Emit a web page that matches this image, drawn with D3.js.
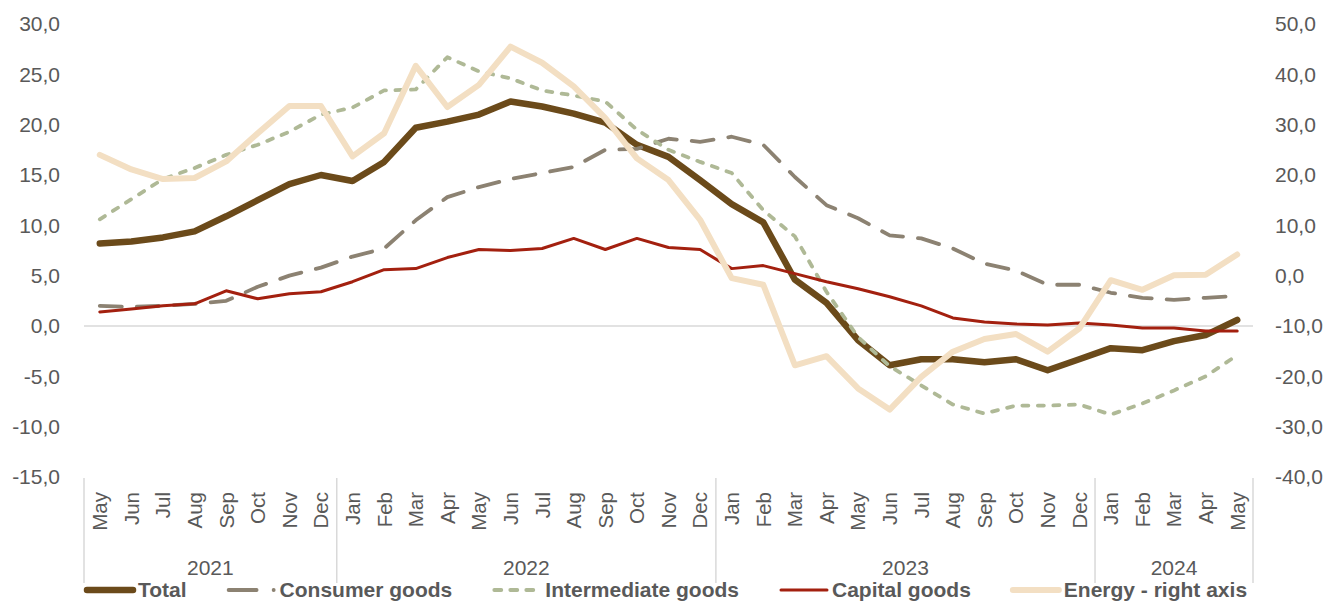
<!DOCTYPE html>
<html>
<head>
<meta charset="utf-8">
<script src="https://d3js.org/d3.v7.min.js"></script>
<style>
  body { margin: 0; background: #fff; }
  text { font-family: "Liberation Sans", Arial, sans-serif; fill: #595959; }
</style>
</head>
<body>
<svg id="chart" width="1341" height="603"></svg>
<script>
// categories
const months = ["May","Jun","Jul","Aug","Sep","Oct","Nov","Dec",
  "Jan","Feb","Mar","Apr","May","Jun","Jul","Aug","Sep","Oct","Nov","Dec",
  "Jan","Feb","Mar","Apr","May","Jun","Jul","Aug","Sep","Oct","Nov","Dec",
  "Jan","Feb","Mar","Apr","May"];
const years = ["2021", "2022", "2023", "2024"];
const yearSpans = [8, 12, 12, 5];

// series (left axis)
const total = [8.2, 8.4, 8.8, 9.4, 10.9, 12.5, 14.1, 15.0, 14.4, 16.3, 19.7, 20.3, 21.0, 22.3, 21.8, 21.1, 20.2, 18.0, 16.8, 14.5,
  12.1, 10.3, 4.6, 2.3, -1.4, -3.9, -3.3, -3.3, -3.6, -3.3, -4.4, -3.3, -2.2, -2.4, -1.5, -0.9, 0.6];
const consumer = [2.0, 1.9, 2.0, 2.2, 2.5, 3.9, 5.0, 5.8, 6.9, 7.7, 10.5, 12.8, 13.8, 14.6, 15.2, 15.8, 17.5, 17.6, 18.6, 18.3,
  18.8, 18.0, 14.8, 12.0, 10.7, 9.0, 8.7, 7.7, 6.2, 5.5, 4.1, 4.1, 3.3, 2.8, 2.6, 2.8, 3.0];
const intermediate = [10.6, 12.6, 14.6, 15.7, 17.0, 18.0, 19.3, 21.0, 21.7, 23.4, 23.5, 26.7, 25.3, 24.6, 23.4, 22.9, 22.3, 19.5, 17.5, 16.3,
  15.2, 11.5, 8.9, 3.4, -1.1, -4.0, -5.9, -7.8, -8.7, -7.9, -7.9, -7.8, -8.8, -7.7, -6.4, -5.0, -2.9];
const capital = [1.4, 1.7, 2.0, 2.2, 3.5, 2.7, 3.2, 3.4, 4.4, 5.6, 5.7, 6.8, 7.6, 7.5, 7.7, 8.7, 7.6, 8.7, 7.8, 7.6,
  5.7, 6.0, 5.2, 4.4, 3.7, 2.9, 2.0, 0.8, 0.4, 0.2, 0.1, 0.3, 0.1, -0.2, -0.2, -0.5, -0.5];
// series (right axis)
const energy = [24.0, 21.1, 19.2, 19.4, 22.7, 28.3, 33.7, 33.7, 23.7, 28.3, 41.7, 33.5, 37.9, 45.5, 42.3, 37.6, 31.3, 23.3, 19.0, 11.1,
  -0.5, -1.8, -17.8, -16.0, -22.4, -26.6, -20.1, -15.1, -12.6, -11.6, -15.1, -10.5, -0.9, -2.8, 0.1, 0.2, 4.2];

// tick labels
const leftTicks = [-15, -10, -5, 0, 5, 10, 15, 20, 25, 30];
const rightTicks = [-40, -30, -20, -10, 0, 10, 20, 30, 40, 50];

const series = [
  {name: "Total", values: total, axis: "left", color: "#6b4a1a", width: 6.5, dash: null},
  {name: "Consumer goods", values: consumer, axis: "left", color: "#8c8272", width: 3.8, dash: "22,15"},
  {name: "Intermediate goods", values: intermediate, axis: "left", color: "#afb996", width: 3.8, dash: "6,9.5"},
  {name: "Capital goods", values: capital, axis: "left", color: "#a3200f", width: 3, dash: null},
  {name: "Energy - right axis", values: energy, axis: "right", color: "#f3dfc3", width: 6, dash: null}
];

const PLOT_LEFT = 84, PLOT_RIGHT = 1253, PLOT_TOP = 24, PLOT_BOTTOM = 477;

const locale = d3.formatLocale({decimal: ",", thousands: ".", grouping: [3], currency: ["", ""], minus: "-"});
const fmt = locale.format(".1f");

const svg = d3.select("#chart");

const x = d3.scaleBand().domain(d3.range(months.length)).range([PLOT_LEFT, PLOT_RIGHT]).padding(0);
const cx = i => x(i) + x.bandwidth() / 2;
const yLeft = d3.scaleLinear().domain([-15, 30]).range([PLOT_BOTTOM, PLOT_TOP]);
const yRight = d3.scaleLinear().domain([-40, 50]).range([PLOT_BOTTOM, PLOT_TOP]);

// left axis
svg.append("g")
  .attr("transform", `translate(${PLOT_LEFT - 24},0)`)
  .call(d3.axisLeft(yLeft).tickValues(leftTicks).tickFormat(fmt).tickSize(0).tickPadding(0))
  .call(g => g.select(".domain").remove())
  .selectAll("text")
  .style("font-size", "21px")
  .style("font-family", "Liberation Sans, Arial, sans-serif")
  .attr("fill", "#595959");

// right axis
svg.append("g")
  .attr("transform", `translate(${PLOT_RIGHT + 22},0)`)
  .call(d3.axisRight(yRight).tickValues(rightTicks).tickFormat(fmt).tickSize(0).tickPadding(0))
  .call(g => g.select(".domain").remove())
  .selectAll("text")
  .style("font-size", "21px")
  .style("font-family", "Liberation Sans, Arial, sans-serif")
  .attr("fill", "#595959");

// zero line
svg.append("line")
  .attr("x1", PLOT_LEFT).attr("x2", PLOT_RIGHT)
  .attr("y1", yLeft(0)).attr("y2", yLeft(0))
  .attr("stroke", "#d9d9d9").attr("stroke-width", 1.5);

// month labels
svg.append("g")
  .attr("transform", `translate(0,${PLOT_BOTTOM})`)
  .call(d3.axisBottom(x).tickFormat(i => months[i]).tickSize(0).tickPadding(0))
  .call(g => g.select(".domain").remove())
  .selectAll("text")
  .style("font-size", "20.5px")
  .style("font-family", "Liberation Sans, Arial, sans-serif")
  .attr("fill", "#595959")
  .attr("transform", "rotate(-90)")
  .attr("text-anchor", "end")
  .attr("x", -15)
  .attr("y", 0)
  .attr("dy", "0.36em");

// year groups
let start = 0;
const bounds = [0];
years.forEach((yr, k) => {
  start += yearSpans[k];
  bounds.push(start);
});
svg.append("g").selectAll("line")
  .data(bounds)
  .join("line")
  .attr("x1", b => b < months.length ? x(b) : PLOT_RIGHT)
  .attr("x2", b => b < months.length ? x(b) : PLOT_RIGHT)
  .attr("y1", PLOT_BOTTOM + 1).attr("y2", 583)
  .attr("stroke", "#d9d9d9").attr("stroke-width", 1.5);

svg.append("g").selectAll("text")
  .data(years)
  .join("text")
  .attr("x", (d, k) => {
    const a = x(bounds[k]);
    const b = bounds[k + 1] < months.length ? x(bounds[k + 1]) : PLOT_RIGHT;
    return (a + b) / 2;
  })
  .attr("y", 575)
  .attr("text-anchor", "middle")
  .style("font-size", "21px")
  .text(d => d);

// lines
const lineLeft = d3.line().x((d, i) => cx(i)).y(d => yLeft(d));
const lineRight = d3.line().x((d, i) => cx(i)).y(d => yRight(d));

svg.append("g").selectAll("path")
  .data(series)
  .join("path")
  .attr("d", s => s.axis === "left" ? lineLeft(s.values) : lineRight(s.values))
  .attr("fill", "none")
  .attr("stroke", s => s.color)
  .attr("stroke-width", s => s.width)
  .attr("stroke-dasharray", s => s.dash)
  .attr("stroke-linejoin", "round")
  .attr("stroke-linecap", "round");

// legend
const legendDash = {
  "Total": null,
  "Consumer goods": "28,17,0.1,40",
  "Intermediate goods": "7,9",
  "Capital goods": null,
  "Energy - right axis": null
};
const legend = svg.append("g");
let lx = 85;
const LEG_Y = 590;
series.forEach(s => {
  const item = legend.append("g");
  item.append("line")
    .attr("x1", lx + 2).attr("x2", lx + 48)
    .attr("y1", LEG_Y).attr("y2", LEG_Y)
    .attr("stroke", s.color)
    .attr("stroke-width", s.width)
    .attr("stroke-linecap", "round")
    .attr("stroke-dasharray", legendDash[s.name]);
  const t = item.append("text")
    .attr("x", lx + 53)
    .attr("y", 597)
    .style("font-size", "21px")
    .style("font-weight", "bold")
    .text(s.name);
  lx += 53 + t.node().getComputedTextLength() + 40;
});
</script>
</body>
</html>
